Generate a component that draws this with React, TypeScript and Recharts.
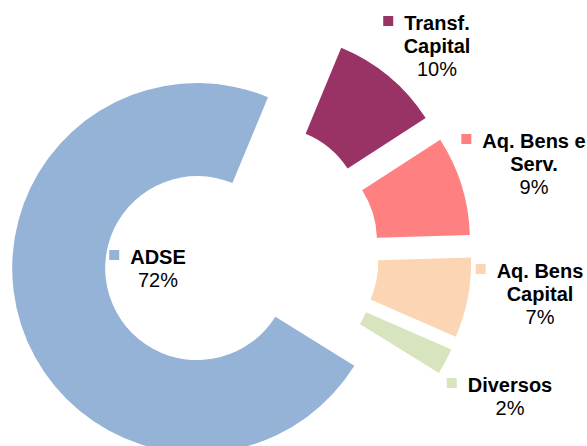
import React from 'react';
import { PieChart, Pie, Cell } from 'recharts';

const categories = ['Transf. Capital', 'Aq. Bens e Serv.', 'Aq. Bens Capital', 'Diversos', 'ADSE'];
const shares = [9.6, 8.7, 7.0, 2.3, 72.4];
const labelLines = [['Transf.', 'Capital'], ['Aq. Bens e', 'Serv.'], ['Aq. Bens', 'Capital'], ['Diversos'], ['ADSE']];
const colors = ['#993366', '#FF8080', '#FCD5B5', '#D7E4BD', '#95B3D7'];

// layout
const W = 587;
const H = 446;
const CX = 236;
const CY = 249;
const OUTER = 185;
const INNER = 92;
const EXPLODE = 46;
const START = 67.5;
const END = START - 360;
const LINE = 23;
const FONT = '"Liberation Sans", Arial, sans-serif';
const FONT_SIZE = 20;
const BOLD_FONT = `bold ${FONT_SIZE}px ${FONT}`;

// label anchor: centre of text, first baseline, relative to the pie centre
const labelAnchors = [
    { dx: 201, dy: -219 },
    { dx: 298, dy: -101 },
    { dx: 304, dy: 29 },
    { dx: 274, dy: 143 },
    { dx: -78, dy: 15 },
];

const data = categories.map((name, i) => ({ name, value: shares[i] }));
const total = shares.reduce((a, b) => a + b, 0);

const sliceOffset = (i: number) => {
    const before = shares.slice(0, i).reduce((a, b) => a + b, 0);
    const mid = START - (360 * (before + shares[i] / 2)) / total;
    const rad = (mid * Math.PI) / 180;
    return { dx: EXPLODE * Math.cos(rad), dy: -EXPLODE * Math.sin(rad) };
};

let ctx: CanvasRenderingContext2D | null = null;
const textWidth = (s: string) => {
    if (!ctx && typeof document !== 'undefined') ctx = document.createElement('canvas').getContext('2d');
    if (!ctx) return s.length * 10;
    ctx.font = BOLD_FONT;
    return ctx.measureText(s).width;
};

const renderLabel = (slice: number) => (props: any) => {
    if (props.index !== slice) return null;
    const lines = labelLines[slice];
    const x = CX + labelAnchors[slice].dx;
    const y = CY + labelAnchors[slice].dy;
    const w = textWidth(lines[0]);
    const pct = `${Math.round(props.percent * 100)}%`;
    return (
        <g>
            <rect x={x - w / 2 - 21} y={y - 14} width={10} height={10} fill={colors[slice]} />
            {lines.map((ln, k) => (
                <text key={k} x={x} y={y + k * LINE} textAnchor="middle" fill="#000" fontFamily={FONT} fontSize={FONT_SIZE} fontWeight="bold">
                    {ln}
                </text>
            ))}
            <text x={x} y={y + lines.length * LINE} textAnchor="middle" fill="#000" fontFamily={FONT} fontSize={FONT_SIZE}>
                {pct}
            </text>
        </g>
    );
};

const App: React.FC = () => {
    return (
        <div style={{ position: 'absolute', left: 0, top: 0, width: W, height: H, background: '#fff' }}>
            <PieChart width={W} height={H}>
                {data.map((_, i) => {
                    const off = sliceOffset(i);
                    return (
                        <Pie
                            key={`pie-${i}`}
                            data={data}
                            dataKey="value"
                            nameKey="name"
                            cx={CX + off.dx}
                            cy={CY + off.dy}
                            innerRadius={INNER}
                            outerRadius={OUTER}
                            startAngle={START}
                            endAngle={END}
                            stroke="none"
                            label={renderLabel(i)}
                            labelLine={false}
                            isAnimationActive={false}
                        >
                            {data.map((entry, j) => (
                                <Cell key={`cell-${j}`} fill={j === i ? colors[j] : 'none'} />
                            ))}
                        </Pie>
                    );
                })}
            </PieChart>
        </div>
    );
};

export default App;
